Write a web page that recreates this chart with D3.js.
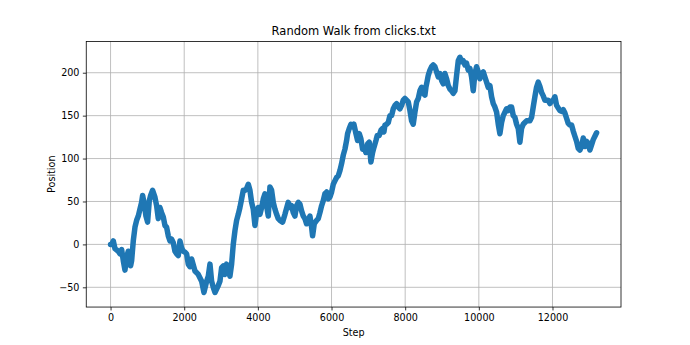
<!DOCTYPE html>
<html>
<head>
<meta charset="utf-8">
<script src="https://cdn.jsdelivr.net/npm/d3@7"></script>
<style>
body { margin: 0; background: #fff; }
text { font-family: "DejaVu Sans", sans-serif; }
</style>
</head>
<body>
<div id="chart"></div>
<script>
// walk, step -> position
var steps = [0,29,74,120,210,255,301,346,391,436,481,509,545,572,617,663,708,753,798,843,871,916,961,1006,1052,1088,1142,1205,1251,1296,1341,1386,1432,1477,1522,1567,1613,1658,1703,1748,1794,1839,1884,1930,1975,2020,2065,2110,
  2156,2201,2292,2382,2473,2536,2608,2654,2699,2744,2789,2835,2880,2925,2970,3016,3061,3106,3151,3197,3242,3287,3332,3378,3423,3468,3513,3559,3604,3649,3694,3740,3785,3830,3875,3921,3966,4011,4056,4102,4147,4192,4237,4283,4328,4373,4418,4464,4509,4554,4599,
  4671,4735,4825,4871,4916,4961,5006,5052,5097,5142,5187,5233,5278,5323,5368,5414,5459,5486,5531,5595,5640,5685,5730,5776,5821,5866,5911,5956,6002,6047,6092,6138,6183,6228,6273,6319,6364,6409,6436,6481,6527,6572,6608,6663,6708,6753,6798,6843,6889,6934,6979,7024,7069,
  7115,7152,7206,7242,7296,7342,7387,7423,7450,7495,7541,7586,7631,7677,7722,7767,7812,7857,7903,7948,7993,8039,8084,8129,8174,8219,8265,8310,8355,8401,8446,8491,8536,8563,8600,8627,8672,8717,8762,8808,8853,8898,8943,8989,9034,9079,9124,9170,9215,9260,9305,9351,9396,9441,
  9486,9531,9577,9622,9667,9712,9758,9803,9848,9893,9939,9984,10029,10074,10120,10165,10210,10255,10301,10346,10391,10436,10482,10527,10572,10617,10663,10708,10753,10798,10844,10889,10934,10979,11025,11070,11115,11160,11205,11251,11296,11341,11386,11432,11477,11522,11567,11613,
  11658,11703,11749,11794,11839,11884,11930,11975,12020,12065,12110,12156,12201,12246,12292,12337,12382,12427,12473,12518,12563,12608,12654,12699,12744,12789,12835,12880,12925,12970,13016,13061,13106,13151,13197];
var positions = [0,0,4,-5,-8,-11,-6,-19,-30,-15,-8,-15,-25,-19,4,20,28,33,41,49,57,47,33,26,51,57,63,55,45,30,43,37,32,22,20,10,4,6,2,-8,-11,-13,4,-4,-8,-9,-11,-23,
  -26,-17,-31,-35,-43,-56,-43,-37,-23,-43,-50,-56,-52,-48,-43,-27,-25,-35,-23,-31,-37,-23,0,16,28,35,43,53,63,63,65,70,63,49,41,22,37,43,35,43,53,59,45,33,67,63,49,41,35,30,28,
  26,35,49,43,45,37,33,45,49,47,39,33,30,24,28,33,20,10,24,28,30,37,45,51,59,61,53,55,61,70,74,78,80,86,94,104,111,121,129,135,140,137,140,129,121,129,123,111,113,107,117,119,96,
  107,113,121,127,127,133,135,131,139,140,142,150,150,158,162,164,160,158,162,168,170,168,166,156,144,140,154,166,170,179,183,176,174,183,191,197,203,207,209,207,201,195,199,191,187,199,193,185,181,179,176,179,197,214,
  218,213,214,209,211,203,205,195,179,199,207,201,193,199,201,195,189,183,185,172,164,160,154,140,129,142,150,154,158,156,160,160,150,148,140,135,119,135,140,142,144,144,144,148,160,172,183,189,
  184,177,173,168,168,168,164,167,168,172,162,159,156,155,157,153,147,141,139,139,132,126,120,112,110,114,124,114,120,118,110,116,122,126,130];

var xTicks = [0, 2000, 4000, 6000, 8000, 10000, 12000];
var yTicks = [-50, 0, 50, 100, 150, 200];
var xLimits = [-660, 13860];
var yLimits = [-73, 236.5];

var width = 690, height = 345;
var margin = {top: 41.4, right: 69, bottom: 37.95, left: 86.25};
var plotW = width - margin.left - margin.right;
var plotH = height - margin.top - margin.bottom;

var svg = d3.select("#chart").append("svg")
    .attr("width", width)
    .attr("height", height);

svg.append("rect").attr("width", width).attr("height", height).attr("fill", "#fff");

var g = svg.append("g").attr("transform", "translate(" + margin.left + "," + margin.top + ")");

var x = d3.scaleLinear().domain(xLimits).range([0, plotW]);
var y = d3.scaleLinear().domain(yLimits).range([plotH, 0]);

// grid
g.append("g").selectAll("line").data(xTicks).enter().append("line")
    .attr("x1", function(d) { return x(d); }).attr("x2", function(d) { return x(d); })
    .attr("y1", 0).attr("y2", plotH)
    .attr("stroke", "#b0b0b0").attr("stroke-width", 0.8);
g.append("g").selectAll("line").data(yTicks).enter().append("line")
    .attr("y1", function(d) { return y(d); }).attr("y2", function(d) { return y(d); })
    .attr("x1", 0).attr("x2", plotW)
    .attr("stroke", "#b0b0b0").attr("stroke-width", 0.8);

svg.append("defs").append("clipPath").attr("id", "clip")
    .append("rect").attr("width", plotW).attr("height", plotH);

var walk = d3.zip(steps, positions);
var line = d3.line()
    .x(function(d) { return x(d[0]); })
    .y(function(d) { return y(d[1]); });

g.append("path")
    .datum(walk)
    .attr("clip-path", "url(#clip)")
    .attr("d", line)
    .attr("fill", "none")
    .attr("stroke", "#1f77b4")
    .attr("stroke-width", 5.5)
    .attr("stroke-linejoin", "round")
    .attr("stroke-linecap", "round");

// axes
var xAxis = g.append("g")
    .attr("transform", "translate(0," + plotH + ")")
    .call(d3.axisBottom(x).tickValues(xTicks).tickFormat(d3.format("d")).tickSize(3.4).tickPadding(3.4));
var yAxis = g.append("g")
    .call(d3.axisLeft(y).tickValues(yTicks).tickFormat(d3.format("d")).tickSize(3.4).tickPadding(3.4));

[xAxis, yAxis].forEach(function(a) {
    a.select(".domain").remove();
    a.selectAll(".tick line").attr("stroke", "#000").attr("stroke-width", 0.8);
    a.selectAll(".tick text").attr("fill", "#000").style("font-size", "9.6px").style("font-family", "DejaVu Sans, sans-serif");
});

g.append("rect")
    .attr("width", plotW).attr("height", plotH)
    .attr("fill", "none").attr("stroke", "#000").attr("stroke-width", 0.8);

// labels
svg.append("text")
    .attr("x", margin.left + plotW / 2).attr("y", margin.top - 6)
    .attr("text-anchor", "middle")
    .style("font-size", "11.5px")
    .text("Random Walk from clicks.txt");

svg.append("text")
    .attr("x", margin.left + plotW / 2).attr("y", 336)
    .attr("text-anchor", "middle")
    .style("font-size", "9.6px")
    .text("Step");

svg.append("text")
    .attr("transform", "translate(54.5," + (margin.top + plotH / 2) + ") rotate(-90)")
    .attr("text-anchor", "middle")
    .style("font-size", "9.6px")
    .text("Position");
</script>
</body>
</html>
